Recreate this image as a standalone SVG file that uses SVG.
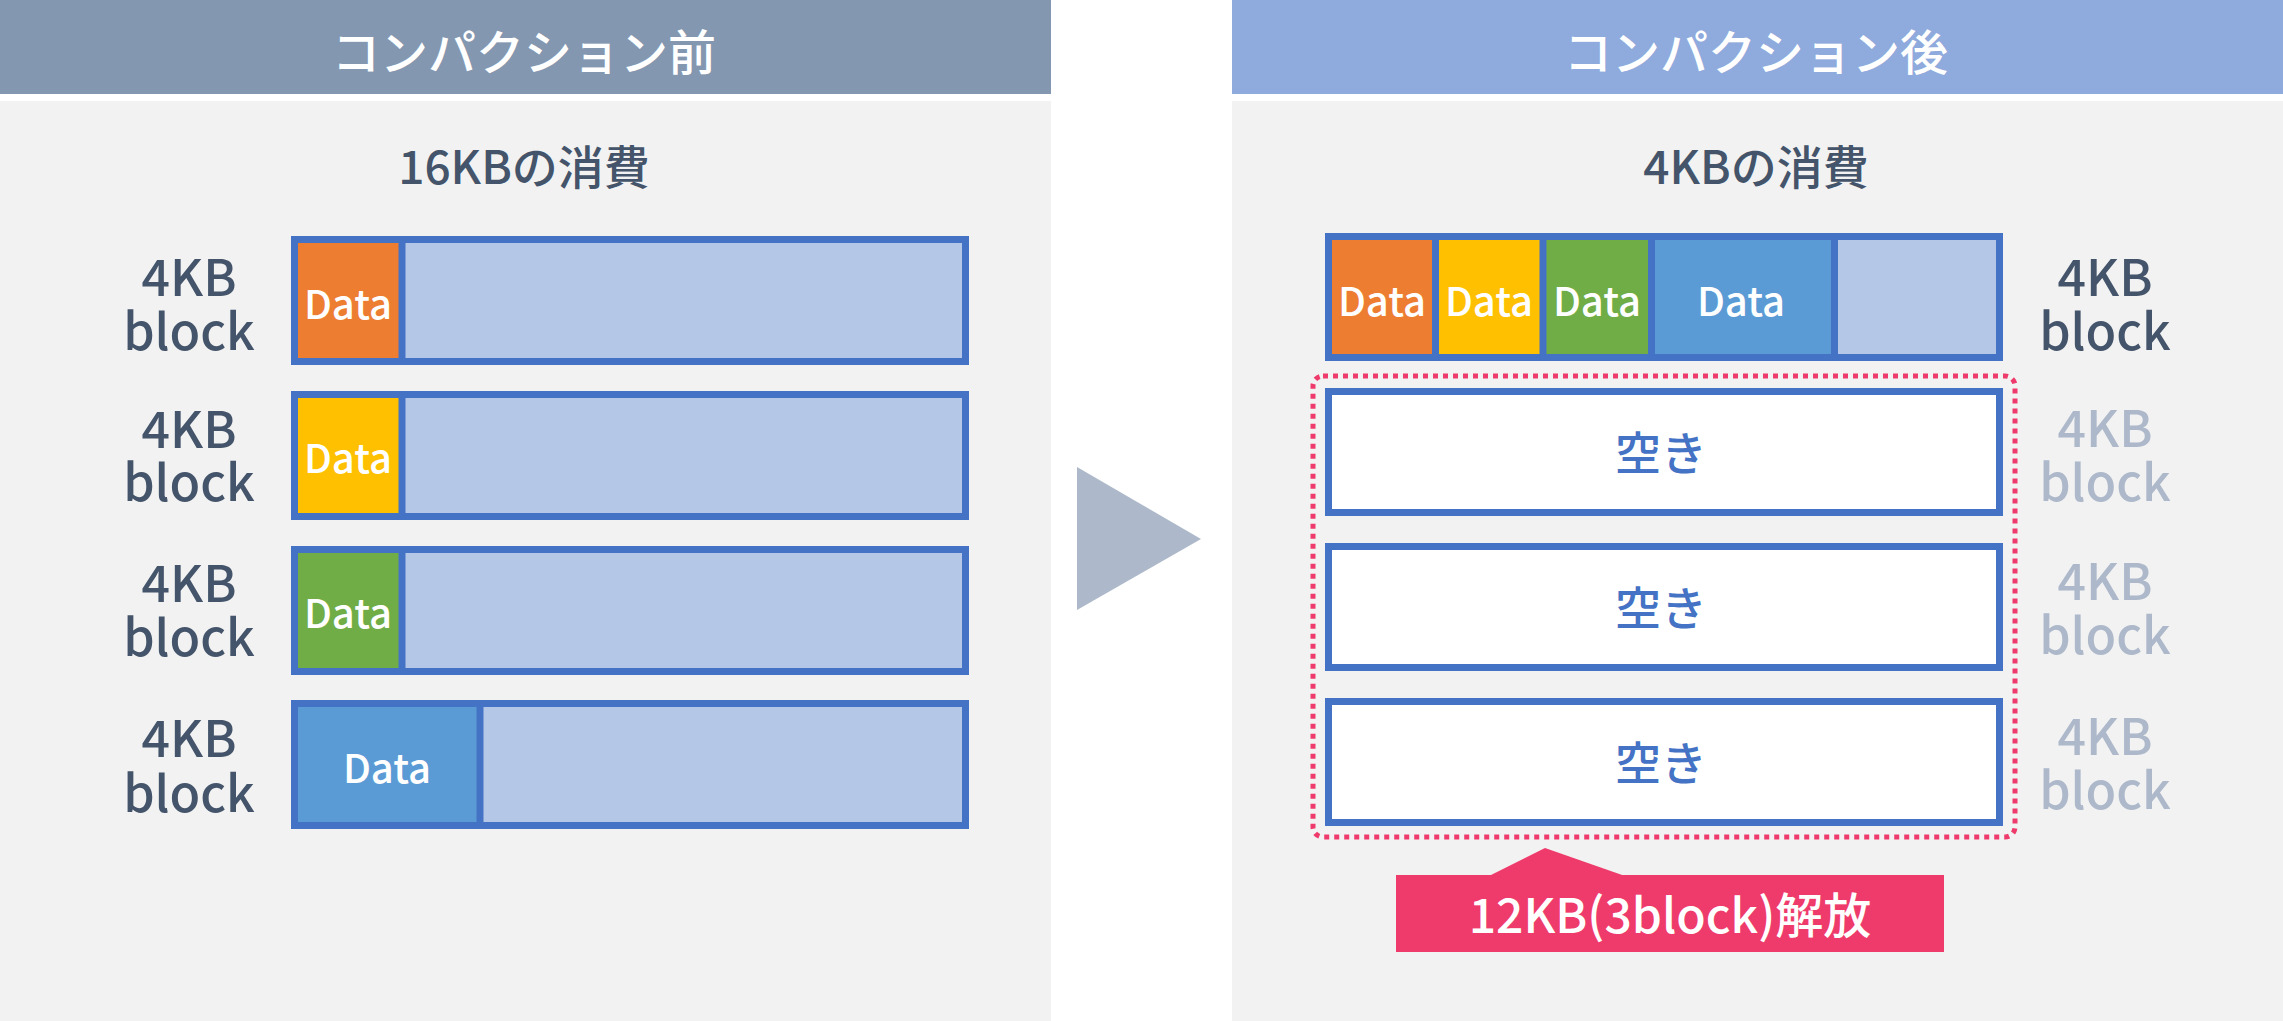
<svg xmlns="http://www.w3.org/2000/svg" width="2283" height="1021" viewBox="0 0 2283 1021">
<style>
text{font-family:"Noto Sans CJK JP","Noto Sans",sans-serif;text-anchor:middle;font-weight:500}
.hd{fill:#fff;font-size:48px}
.sub{fill:#44546a;font-size:46px}
.lb{fill:#44546a;font-size:50px}
.lg{fill:#adb9ca;font-size:50px}
.dt{fill:#fff;font-size:40px}
.ak{fill:#4472c4;font-size:46px}
.blk{fill:#b4c7e7;stroke:#4472c4;stroke-width:7}
.fr{fill:#fff;stroke:#4472c4;stroke-width:7}
.dv{stroke:#4472c4;stroke-width:7}
</style>
<rect width="2283" height="1021" fill="#fff"/>
<rect x="0" y="0" width="1051" height="94" fill="#8497b0"/>
<rect x="0" y="101" width="1051" height="920" fill="#f2f2f2"/>
<rect x="1232" y="0" width="1051" height="94" fill="#8faadc"/>
<rect x="1232" y="101" width="1051" height="920" fill="#f2f2f2"/>
<text class="hd" x="524" y="70">コンパクション前</text>
<text class="hd" x="1756" y="70">コンパクション後</text>
<text class="sub" x="524" y="184">16KBの消費</text>
<text class="sub" x="1756" y="184">4KBの消費</text>
<polygon points="1077,467 1201,539 1077,610" fill="#adb9ca"/>
<g id="left-block1"><rect class="blk" x="294.5" y="239.5" width="671" height="122"/><rect x="298" y="243" width="101" height="115" fill="#ed7d31"/><line class="dv" x1="402" y1="243" x2="402" y2="358"/><text class="dt" x="348" y="319">Data</text><text class="lb" x="189" y="296">4KB</text><text class="lb" x="189" y="350">block</text></g>
<g id="left-block2"><rect class="blk" x="294.5" y="394.5" width="671" height="122"/><rect x="298" y="398" width="101" height="115" fill="#ffc000"/><line class="dv" x1="402" y1="398" x2="402" y2="513"/><text class="dt" x="348" y="473">Data</text><text class="lb" x="189" y="448">4KB</text><text class="lb" x="189" y="501">block</text></g>
<g id="left-block3"><rect class="blk" x="294.5" y="549.5" width="671" height="122"/><rect x="298" y="553" width="101" height="115" fill="#70ad47"/><line class="dv" x1="402" y1="553" x2="402" y2="668"/><text class="dt" x="348" y="628">Data</text><text class="lb" x="189" y="602">4KB</text><text class="lb" x="189" y="656">block</text></g>
<g id="left-block4"><rect class="blk" x="294.5" y="703.5" width="671" height="122"/><rect x="298" y="707" width="179" height="115" fill="#5b9bd5"/><line class="dv" x1="480" y1="707" x2="480" y2="822"/><text class="dt" x="387" y="783">Data</text><text class="lb" x="189" y="757">4KB</text><text class="lb" x="189" y="812">block</text></g>
<g id="right-block1"><rect class="blk" x="1328.5" y="236.5" width="671" height="121"/>
<rect x="1332" y="240" width="100" height="114" fill="#ed7d31"/><rect x="1439" y="240" width="101" height="114" fill="#ffc000"/><rect x="1546" y="240" width="102" height="114" fill="#70ad47"/><rect x="1655" y="240" width="176" height="114" fill="#5b9bd5"/>
<line class="dv" x1="1435.5" y1="240" x2="1435.5" y2="354"/><line class="dv" x1="1543" y1="240" x2="1543" y2="354"/><line class="dv" x1="1651.5" y1="240" x2="1651.5" y2="354"/><line class="dv" x1="1834.5" y1="240" x2="1834.5" y2="354"/>
<text class="dt" x="1382" y="316">Data</text><text class="dt" x="1489" y="316">Data</text><text class="dt" x="1597" y="316">Data</text><text class="dt" x="1741" y="316">Data</text>
<text class="lb" x="2105" y="296">4KB</text><text class="lb" x="2105" y="350">block</text></g>
<g id="right-block2"><rect class="fr" x="1328.5" y="391.5" width="671" height="121"/><text class="ak" x="1661" y="470">空き</text><text class="lg" x="2105" y="447">4KB</text><text class="lg" x="2105" y="501">block</text></g>
<g id="right-block3"><rect class="fr" x="1328.5" y="546.5" width="671" height="121"/><text class="ak" x="1661" y="625">空き</text><text class="lg" x="2105" y="600">4KB</text><text class="lg" x="2105" y="654">block</text></g>
<g id="right-block4"><rect class="fr" x="1328.5" y="701.5" width="671" height="121"/><text class="ak" x="1661" y="780">空き</text><text class="lg" x="2105" y="755">4KB</text><text class="lg" x="2105" y="809">block</text></g>
<g id="connectors">
<rect x="1313" y="376" width="702" height="461" rx="10" fill="none" stroke="#ee3b6b" stroke-width="5" stroke-dasharray="5 5"/>
</g>
<g id="callout"><polygon points="1489,876 1545,848 1625,876" fill="#ee3b6b"/><rect x="1396" y="875" width="548" height="77" fill="#ee3b6b"/><text x="1670" y="933" fill="#fff" font-size="48">12KB(3block)解放</text></g>
</svg>
